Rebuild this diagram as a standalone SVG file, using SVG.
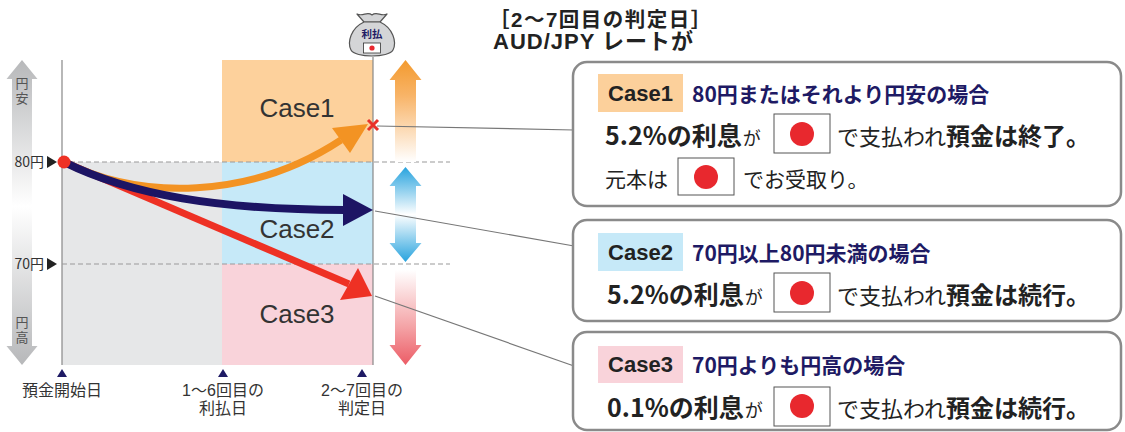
<svg xmlns="http://www.w3.org/2000/svg" width="1125" height="432" viewBox="0 0 1125 432">
<style>
.jp{font-family:"Noto Sans CJK JP",sans-serif;}
.lat{font-family:"Liberation Sans","Noto Sans CJK JP",sans-serif;}
.box{fill:#fff;stroke:#8a8a8a;stroke-width:2.5;}
.flag{fill:#fff;stroke:#555;stroke-width:1;}
.dot{fill:#e8282e;}
.navy{fill:#1e1a64;font-weight:bold;font-size:21px;}
.lbl{font-size:22px;font-weight:bold;fill:#222;}
.big{font-size:25px;font-weight:bold;fill:#222;}
.reg{font-size:22px;fill:#222;}
.reg2{font-size:21px;fill:#222;}
.bold{font-size:24px;font-weight:bold;fill:#222;}
.ax{font-size:16px;fill:#333;}
.dash{stroke:#9a9a9a;stroke-width:1.2;stroke-dasharray:5 3;fill:none;}
.lead{stroke:#777;stroke-width:1.2;fill:none;}
.tick{fill:#1e1a64;}
</style>
<defs>
<linearGradient id="gGray" x1="0" y1="0" x2="0" y2="1"><stop offset="0" stop-color="#b7b8ba"/><stop offset="0.48" stop-color="#fff"/><stop offset="1" stop-color="#b7b8ba"/></linearGradient>
<linearGradient id="gOr" x1="0" y1="0" x2="0" y2="1"><stop offset="0" stop-color="#f39a2e"/><stop offset="0.35" stop-color="#f8b468"/><stop offset="1" stop-color="#fff"/></linearGradient>
<linearGradient id="gBl" x1="0" y1="0" x2="0" y2="1"><stop offset="0" stop-color="#27a3de"/><stop offset="0.5" stop-color="#fff"/><stop offset="1" stop-color="#27a3de"/></linearGradient>
<linearGradient id="gPk" x1="0" y1="0" x2="0" y2="1"><stop offset="0" stop-color="#fff"/><stop offset="0.6" stop-color="#f4a3a6"/><stop offset="1" stop-color="#ec5c66"/></linearGradient>
</defs>

<g id="chart">
<rect x="62" y="162" width="160" height="203" fill="#e6e7e8"/>
<rect x="222" y="60" width="151" height="102" fill="#fdd19c"/>
<rect x="222" y="162" width="151" height="102" fill="#c6e9f8"/>
<rect x="222" y="264" width="151" height="101" fill="#f9d3da"/>
<line x1="62" y1="60" x2="62" y2="365" stroke="#888" stroke-width="1.2"/>
<line x1="373" y1="57" x2="373" y2="365" stroke="#888" stroke-width="1.2"/>
<line class="dash" x1="62" y1="162" x2="450" y2="162"/>
<line class="dash" x1="62" y1="264" x2="450" y2="264"/>
<text class="lat" x="297" y="117" font-size="26" fill="#333" text-anchor="middle">Case1</text>
<text class="lat" x="297" y="238" font-size="26" fill="#333" text-anchor="middle">Case2</text>
<text class="lat" x="297" y="323" font-size="26" fill="#333" text-anchor="middle">Case3</text>
</g>

<g id="yen-axis">
<polygon points="22,60 37.5,79 32,79 32,346 37.5,346 22,365 6.5,346 12,346 12,79 6.5,79" fill="url(#gGray)"/>
<text class="lat" x="22" y="88" font-size="13" fill="#555" text-anchor="middle">円</text>
<text class="lat" x="22" y="103" font-size="13" fill="#555" text-anchor="middle">安</text>
<text class="lat" x="22" y="327" font-size="13" fill="#555" text-anchor="middle">円</text>
<text class="lat" x="22" y="342" font-size="13" fill="#555" text-anchor="middle">高</text>
<text class="jp" x="44" y="167" font-size="14" fill="#333" text-anchor="end">80円</text>
<polygon points="47,156 57,162 47,168" fill="#222"/>
<text class="jp" x="44" y="269" font-size="14" fill="#333" text-anchor="end">70円</text>
<polygon points="47,258 57,264 47,270" fill="#222"/>
</g>

<g id="range-arrows">
<polygon points="405.5,60 421.5,80 416,80 416,162 395,162 395,80 389.5,80" fill="url(#gOr)"/>
<polygon points="405.5,167 421.5,186 416,186 416,243 421.5,243 405.5,262 389.5,243 395,243 395,186 389.5,186" fill="url(#gBl)"/>
<polygon points="395,270 416,270 416,345 421.5,345 405.5,365 389.5,345 395,345" fill="url(#gPk)"/>
</g>

<g id="bag">
<path d="M364,22 L357,14 C363,17 367,11 372,15 C377,11 381,17 387,14 L380,22 Z" fill="#d4d5d7" stroke="#555" stroke-width="1.2" stroke-linejoin="round"/>
<path d="M364,22 C351,28 347,42 351,50 C355,58 389,58 393,50 C397,42 393,28 380,22 Z" fill="#d4d5d7" stroke="#555" stroke-width="1.2"/>
<text class="jp" x="372" y="38" font-size="10.5" font-weight="bold" fill="#1e1a64" text-anchor="middle">利払</text>
<rect x="363.5" y="43" width="17" height="10" fill="#fff" stroke="#333" stroke-width="0.8"/>
<circle cx="372" cy="48" r="2.6" fill="#e8282e"/>
</g>

<g id="title">
<text class="lat" x="489" y="27" font-size="20.5" font-weight="bold" fill="#222" letter-spacing="1.5">［2〜7回目の判定日］</text>
<text class="lat" x="493" y="49" font-size="22" font-weight="bold" fill="#222" letter-spacing="1">AUD/JPY レートが</text>
</g>

<g id="paths">
<path d="M64,162 L349,284" stroke="#ee3124" stroke-width="7" fill="none"/>
<polygon points="372,296 340,300 358,268" fill="#ee3124"/>
<path d="M64,162 C140,200 250,200 341,140" stroke="#f39323" stroke-width="7" fill="none"/>
<polygon points="368,124 332,128 350,153" fill="#f39323"/>
<path d="M64,162 C130,195 220,210 345,210" stroke="#1c1464" stroke-width="8" fill="none"/>
<polygon points="373,210 343,194 343,226" fill="#1c1464"/>
<circle cx="64" cy="162" r="6.5" fill="#ee3124"/>
<path d="M368,120 L378,130 M378,120 L368,130" stroke="#e8322a" stroke-width="3"/>
</g>

<g id="ticks">
<polygon points="62,369 67,377 57,377" class="tick"/>
<polygon points="223,369 228,377 218,377" class="tick"/>
<polygon points="362,369 367,377 357,377" class="tick"/>
<text class="lat ax" x="62" y="396" text-anchor="middle">預金開始日</text>
<text class="lat ax" x="223" y="396" text-anchor="middle">1〜6回目の</text>
<text class="lat ax" x="223" y="414" text-anchor="middle">利払日</text>
<text class="lat ax" x="362" y="396" text-anchor="middle">2〜7回目の</text>
<text class="lat ax" x="362" y="414" text-anchor="middle">判定日</text>
</g>

<g id="connectors">
<line class="lead" x1="377" y1="126" x2="574" y2="130"/>
<line class="lead" x1="375" y1="211" x2="574" y2="246"/>
<line class="lead" x1="375" y1="296" x2="574" y2="366"/>
</g>

<g id="case1">
<rect class="box" x="573" y="62" width="548" height="144" rx="14"/>
<rect x="598" y="74" width="85" height="38" fill="#fcd09b"/>
<text class="lat lbl" x="640.5" y="101" text-anchor="middle">Case1</text>
<text class="jp navy" x="692" y="102">80円またはそれより円安の場合</text>
<text class="jp big" x="605" y="145">5.2%の利息<tspan font-size="18" font-weight="normal" dx="1">が</tspan></text>
<rect class="flag" x="774" y="114" width="56" height="39"/>
<circle class="dot" cx="802" cy="134" r="12"/>
<text class="jp reg" x="837" y="145">で支払われ<tspan class="bold">預金は終了。</tspan></text>
<text class="jp reg2" x="605" y="187">元本は</text>
<rect class="flag" x="678" y="158" width="56" height="37"/>
<circle class="dot" cx="706" cy="177" r="12"/>
<text class="jp reg2" x="743" y="187">でお受取り。</text>
</g>

<g id="case2">
<rect class="box" x="573" y="220" width="548" height="101" rx="14"/>
<rect x="598" y="233" width="85" height="38" fill="#c6e9f8"/>
<text class="lat lbl" x="640.5" y="260" text-anchor="middle">Case2</text>
<text class="jp navy" x="692" y="261">70円以上80円未満の場合</text>
<text class="jp big" x="607" y="304">5.2%の利息<tspan font-size="18" font-weight="normal" dx="1">が</tspan></text>
<rect class="flag" x="774" y="273" width="56" height="39"/>
<circle class="dot" cx="802" cy="293" r="12"/>
<text class="jp reg" x="837" y="304">で支払われ<tspan class="bold">預金は続行。</tspan></text>
</g>

<g id="case3">
<rect class="box" x="573" y="332" width="548" height="98" rx="14"/>
<rect x="598" y="346" width="85" height="37" fill="#f9d3da"/>
<text class="lat lbl" x="640.5" y="372" text-anchor="middle">Case3</text>
<text class="jp navy" x="692" y="373">70円よりも円高の場合</text>
<text class="jp big" x="607" y="417">0.1%の利息<tspan font-size="18" font-weight="normal" dx="1">が</tspan></text>
<rect class="flag" x="774" y="387" width="56" height="39"/>
<circle class="dot" cx="802" cy="406" r="12"/>
<text class="jp reg" x="837" y="417">で支払われ<tspan class="bold">預金は続行。</tspan></text>
</g>
</svg>
